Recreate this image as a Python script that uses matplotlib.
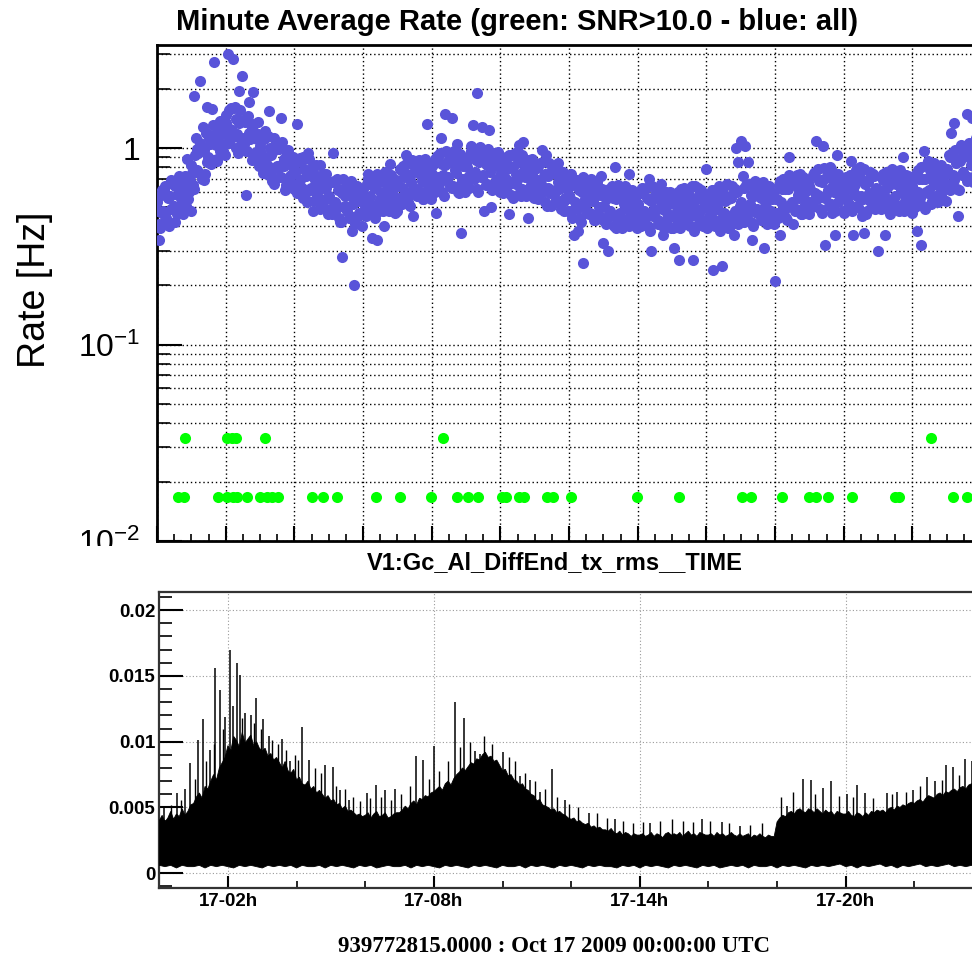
import numpy as np
import matplotlib
matplotlib.use("Agg")
import matplotlib.pyplot as plt
from matplotlib.ticker import FixedLocator, MultipleLocator, FuncFormatter, LogLocator, NullFormatter, FixedFormatter
from matplotlib.patches import Rectangle

plt.rcParams['font.family'] = ['Liberation Sans', 'DejaVu Sans']
plt.rcParams['mathtext.fontset'] = 'custom'
plt.rcParams['mathtext.rm'] = 'Liberation Sans'

# ---------------------------------------------------------------------------
# Top panel: minute average rate [Hz]
# three interleaved sets, one value every 4 min each (15 per hour)
rate_all = [
    0.53, 0.34, 0.47, 0.61, 0.44, 0.56, 0.49, 0.66, 0.42, 0.58, 0.71, 0.52, 0.63, 0.88, 0.60,  # 00h
    0.82, 1.85, 1.12, 0.94, 2.20, 1.28, 0.74, 1.62, 1.05, 1.58, 2.75, 0.88, 1.35, 1.18, 0.97,  # 01h
    1.48, 3.02, 1.25, 2.85, 1.62, 1.18, 1.95, 2.32, 1.05, 0.58, 1.72, 1.14, 1.92, 0.92, 1.36,  # 02h
    1.02, 0.86, 1.22, 0.74, 1.55, 0.92, 0.66, 1.08, 0.79, 1.42, 0.84, 0.61, 0.95, 0.72, 0.88,  # 03h
    0.78, 1.32, 0.64, 0.85, 0.56, 0.72, 0.95, 0.61, 0.48, 0.69, 0.58, 0.82, 0.52, 0.63, 0.74,  # 04h
    0.56, 0.47, 0.94, 0.52, 0.61, 0.42, 0.28, 0.57, 0.48, 0.66, 0.38, 0.20, 0.54, 0.45, 0.62,  # 05h
    0.62, 0.51, 0.74, 0.57, 0.35, 0.66, 0.34, 0.48, 0.59, 0.40, 0.69, 0.55, 0.83, 0.61, 0.47,  # 06h
    0.64, 0.78, 0.52, 0.71, 0.92, 0.58, 0.67, 0.45, 0.82, 0.61, 0.74, 0.55, 0.88, 1.33, 0.70,  # 07h
    0.81, 0.68, 0.47, 0.92, 1.12, 0.73, 1.50, 0.85, 0.64, 1.43, 0.77, 1.05, 0.59, 0.37, 0.88,  # 08h
    0.84, 0.71, 1.02, 1.31, 0.76, 1.90, 0.93, 1.28, 0.48, 0.82, 1.24, 0.50, 0.88, 0.69, 0.96,  # 09h
    0.72, 0.85, 0.61, 0.78, 0.46, 0.92, 0.68, 0.74, 1.04, 0.57, 1.08, 0.81, 0.44, 0.70, 0.88,  # 10h
    0.66, 0.79, 0.58, 0.98, 0.72, 0.92, 0.63, 0.51, 0.75, 0.60, 0.84, 0.54, 0.69, 0.48, 0.62,  # 11h
    0.58, 0.74, 0.36, 0.52, 0.38, 0.64, 0.26, 0.55, 0.47, 0.68, 0.59, 0.43, 0.61, 0.50, 0.72,  # 12h
    0.33, 0.55, 0.30, 0.48, 0.61, 0.80, 0.44, 0.57, 0.39, 0.52, 0.63, 0.74, 0.46, 0.58, 0.41,  # 13h
    0.52, 0.45, 0.63, 0.41, 0.56, 0.70, 0.30, 0.49, 0.58, 0.43, 0.66, 0.36, 0.54, 0.47, 0.60,  # 14h
    0.55, 0.31, 0.48, 0.27, 0.62, 0.44, 0.57, 0.51, 0.40, 0.27, 0.64, 0.49, 0.58, 0.42, 0.53,  # 15h
    0.78, 0.56, 0.45, 0.24, 0.61, 0.49, 0.38, 0.25, 0.54, 0.66, 0.43, 0.58, 0.36, 1.00, 0.85,  # 16h
    1.09, 0.72, 1.03, 0.85, 0.52, 0.34, 0.60, 0.47, 0.66, 0.56, 0.31, 0.50, 0.63, 0.44, 0.57,  # 17h
    0.21, 0.55, 0.36, 0.62, 0.48, 0.70, 0.90, 0.52, 0.41, 0.66, 0.58, 0.74, 0.46, 0.60, 0.53,  # 18h
    0.64, 0.52, 0.75, 1.09, 0.58, 0.69, 1.03, 0.32, 0.61, 0.80, 0.47, 0.36, 0.92, 0.66, 0.55,  # 19h
    0.60, 0.71, 0.50, 0.86, 0.36, 0.66, 0.57, 0.80, 0.45, 0.37, 0.68, 0.59, 0.74, 0.52, 0.63,  # 20h
    0.30, 0.58, 0.69, 0.36, 0.63, 0.51, 0.75, 0.56, 0.66, 0.48, 0.61, 0.90, 0.54, 0.72, 0.59,  # 21h
    0.64, 0.55, 0.38, 0.70, 0.32, 0.97, 0.60, 0.86, 0.52, 0.68, 0.74, 0.58, 0.80, 0.66, 0.76,  # 22h
    0.78, 0.92, 1.20, 1.35, 0.84, 0.45, 0.88, 1.02, 0.72, 1.50, 0.96, 1.42, 0.81, 1.12, 0.90,  # 23h
]
rate_all_b = [
    0.48, 0.39, 0.61, 0.45, 0.57, 0.40, 0.69, 0.51, 0.64, 0.48, 0.61, 0.46, 0.72, 0.55, 0.69,
    0.75, 0.62, 0.99, 0.75, 0.97, 0.69, 1.20, 0.90, 1.16, 0.87, 1.12, 0.86, 1.37, 1.05, 1.34,
    1.35, 1.06, 1.60, 1.14, 1.40, 0.94, 1.56, 1.12, 1.36, 0.97, 1.20, 0.87, 1.32, 0.96, 1.18,
    0.95, 0.75, 1.13, 0.81, 1.00, 0.68, 1.13, 0.81, 0.99, 0.71, 0.88, 0.65, 0.98, 0.73, 0.90,
    0.75, 0.59, 0.89, 0.63, 0.78, 0.53, 0.88, 0.63, 0.76, 0.55, 0.67, 0.49, 0.74, 0.55, 0.67,
    0.57, 0.46, 0.68, 0.49, 0.62, 0.42, 0.70, 0.51, 0.62, 0.45, 0.57, 0.41, 0.64, 0.47, 0.58,
    0.56, 0.45, 0.70, 0.50, 0.64, 0.44, 0.74, 0.55, 0.68, 0.50, 0.63, 0.48, 0.73, 0.56, 0.69,
    0.65, 0.52, 0.81, 0.58, 0.74, 0.51, 0.87, 0.63, 0.79, 0.58, 0.74, 0.55, 0.85, 0.64, 0.81,
    0.74, 0.60, 0.91, 0.66, 0.83, 0.57, 0.97, 0.71, 0.88, 0.64, 0.81, 0.60, 0.93, 0.70, 0.87,
    0.80, 0.63, 0.97, 0.70, 0.87, 0.60, 1.01, 0.73, 0.91, 0.66, 0.83, 0.61, 0.94, 0.70, 0.87,
    0.75, 0.59, 0.90, 0.65, 0.81, 0.56, 0.95, 0.69, 0.85, 0.62, 0.77, 0.57, 0.87, 0.65, 0.81,
    0.70, 0.55, 0.84, 0.60, 0.74, 0.51, 0.84, 0.61, 0.75, 0.54, 0.67, 0.49, 0.76, 0.56, 0.69,
    0.56, 0.44, 0.68, 0.49, 0.61, 0.42, 0.71, 0.52, 0.64, 0.47, 0.58, 0.43, 0.67, 0.50, 0.62,
    0.51, 0.41, 0.62, 0.45, 0.56, 0.39, 0.65, 0.47, 0.59, 0.43, 0.54, 0.40, 0.61, 0.46, 0.57,
    0.50, 0.40, 0.61, 0.44, 0.55, 0.38, 0.64, 0.47, 0.58, 0.42, 0.53, 0.39, 0.60, 0.45, 0.56,
    0.39, 0.52, 0.43, 0.57, 0.49, 0.63, 0.41, 0.58, 0.45, 0.54, 0.40, 0.63, 0.48, 0.59, 0.43,
    0.39, 0.53, 0.43, 0.58, 0.49, 0.64, 0.42, 0.59, 0.46, 0.55, 0.40, 0.64, 0.48, 0.60, 0.44,
    0.53, 0.42, 0.65, 0.47, 0.58, 0.40, 0.68, 0.49, 0.61, 0.45, 0.56, 0.41, 0.64, 0.48, 0.59,
    0.55, 0.44, 0.68, 0.49, 0.62, 0.43, 0.73, 0.53, 0.67, 0.49, 0.61, 0.46, 0.71, 0.54, 0.67,
    0.62, 0.50, 0.76, 0.55, 0.68, 0.47, 0.79, 0.58, 0.71, 0.52, 0.65, 0.48, 0.74, 0.56, 0.69,
    0.47, 0.63, 0.52, 0.69, 0.59, 0.77, 0.50, 0.71, 0.55, 0.66, 0.48, 0.76, 0.58, 0.72, 0.52,
    0.61, 0.49, 0.74, 0.54, 0.67, 0.46, 0.78, 0.57, 0.70, 0.51, 0.64, 0.48, 0.73, 0.55, 0.68,
    0.62, 0.50, 0.77, 0.56, 0.70, 0.49, 0.83, 0.61, 0.76, 0.56, 0.70, 0.53, 0.82, 0.62, 0.78,
    0.75, 0.61, 0.94, 0.69, 0.87, 0.61, 1.04, 0.76, 0.95, 0.71, 0.89, 0.67, 1.04, 0.79, 1.01,
]
rate_all_c = [
    0.41, 0.58, 0.48, 0.64, 0.41, 0.57, 0.49, 0.64, 0.46, 0.72, 0.56, 0.67, 0.51, 0.63, 0.48,
    0.65, 0.92, 0.77, 1.06, 0.70, 0.98, 0.85, 1.13, 0.83, 1.31, 1.04, 1.24, 0.97, 1.22, 0.92,
    1.16, 1.57, 1.24, 1.61, 1.00, 1.34, 1.10, 1.39, 0.97, 1.46, 1.11, 1.27, 0.94, 1.11, 0.81,
    0.82, 1.11, 0.88, 1.15, 0.72, 0.97, 0.79, 1.01, 0.71, 1.07, 0.81, 0.94, 0.70, 0.84, 0.62,
    0.65, 0.87, 0.69, 0.90, 0.56, 0.76, 0.62, 0.79, 0.54, 0.82, 0.62, 0.71, 0.53, 0.63, 0.46,
    0.49, 0.67, 0.53, 0.70, 0.44, 0.59, 0.50, 0.64, 0.44, 0.68, 0.52, 0.60, 0.45, 0.54, 0.40,
    0.48, 0.66, 0.54, 0.71, 0.46, 0.63, 0.52, 0.68, 0.48, 0.76, 0.58, 0.69, 0.52, 0.64, 0.48,
    0.56, 0.77, 0.63, 0.83, 0.53, 0.72, 0.61, 0.79, 0.57, 0.87, 0.68, 0.79, 0.60, 0.74, 0.55,
    0.64, 0.88, 0.71, 0.94, 0.60, 0.82, 0.69, 0.88, 0.63, 0.97, 0.75, 0.88, 0.66, 0.81, 0.60,
    0.69, 0.93, 0.75, 0.99, 0.62, 0.85, 0.71, 0.92, 0.65, 0.99, 0.76, 0.88, 0.66, 0.81, 0.60,
    0.64, 0.87, 0.70, 0.92, 0.58, 0.80, 0.66, 0.85, 0.60, 0.92, 0.71, 0.82, 0.62, 0.75, 0.56,
    0.60, 0.81, 0.66, 0.85, 0.53, 0.72, 0.59, 0.77, 0.53, 0.81, 0.62, 0.71, 0.54, 0.64, 0.48,
    0.48, 0.65, 0.53, 0.69, 0.44, 0.60, 0.50, 0.64, 0.46, 0.70, 0.54, 0.63, 0.47, 0.58, 0.43,
    0.44, 0.60, 0.48, 0.64, 0.40, 0.55, 0.46, 0.59, 0.42, 0.64, 0.49, 0.58, 0.43, 0.53, 0.39,
    0.43, 0.59, 0.48, 0.63, 0.40, 0.54, 0.45, 0.58, 0.41, 0.63, 0.49, 0.57, 0.43, 0.52, 0.39,
    0.56, 0.45, 0.60, 0.39, 0.53, 0.42, 0.58, 0.47, 0.64, 0.38, 0.55, 0.44, 0.61, 0.40, 0.50,
    0.57, 0.46, 0.61, 0.40, 0.54, 0.43, 0.59, 0.47, 0.65, 0.39, 0.56, 0.45, 0.62, 0.41, 0.51,
    0.46, 0.63, 0.50, 0.66, 0.42, 0.57, 0.48, 0.61, 0.43, 0.67, 0.51, 0.60, 0.45, 0.55, 0.41,
    0.47, 0.65, 0.53, 0.70, 0.44, 0.62, 0.51, 0.66, 0.48, 0.73, 0.56, 0.67, 0.50, 0.62, 0.46,
    0.53, 0.73, 0.59, 0.78, 0.49, 0.67, 0.56, 0.72, 0.51, 0.78, 0.60, 0.70, 0.53, 0.64, 0.48,
    0.68, 0.55, 0.73, 0.48, 0.64, 0.51, 0.70, 0.57, 0.78, 0.46, 0.67, 0.54, 0.74, 0.49, 0.61,
    0.52, 0.72, 0.58, 0.76, 0.48, 0.66, 0.55, 0.71, 0.50, 0.77, 0.59, 0.69, 0.52, 0.63, 0.47,
    0.53, 0.74, 0.60, 0.80, 0.51, 0.70, 0.59, 0.77, 0.54, 0.84, 0.65, 0.77, 0.58, 0.72, 0.54,
    0.65, 0.90, 0.73, 0.98, 0.62, 0.86, 0.73, 0.95, 0.68, 1.06, 0.82, 0.97, 0.74, 0.92, 0.69,
]

# SNR>10 triggers: hours of the minutes with 1 and with 2 triggers
snr_one_t = [0.61, 0.80, 1.77, 2.03, 2.20, 2.32, 2.61, 2.99, 3.20, 3.34, 3.52, 4.51, 4.83, 5.24,
             6.37, 7.07, 7.97, 8.73, 9.05, 9.34, 10.04, 10.16, 10.54, 10.68, 11.35, 11.52, 12.05,
             13.97, 15.20, 17.03, 17.30, 18.20, 18.98, 19.19, 19.54, 20.24, 21.49, 21.61, 23.18, 23.59]
snr_two_t = [0.81, 2.03, 2.18, 2.29, 3.14, 8.32, 22.54]
snr_rates = [1 / 60, 2 / 60]

# ---------------------------------------------------------------------------
# Bottom panel: V1:Gc_Al_DiffEnd_tx_rms, upper envelope every 5 min (units of 1e-4)
env_top_e4 = [
    40, 44, 39, 42, 47, 41, 45, 43, 49, 44, 47, 52,      # 00h
    53, 58, 61, 57, 66, 64, 70, 75, 71, 80, 84, 88,      # 01h
    97, 93, 104, 101, 96, 107, 99, 102, 105, 97, 100, 95,  # 02h
    93, 95, 89, 91, 86, 88, 84, 80, 85, 78, 76, 79,      # 03h
    71, 73, 68, 67, 70, 64, 66, 61, 63, 60, 57, 59,      # 04h
    55, 56, 52, 53, 49, 51, 47, 48, 46, 44, 45, 43,      # 05h
    44, 46, 42, 45, 47, 43, 44, 46, 42, 43, 45, 46,      # 06h
    46, 48, 51, 49, 53, 55, 52, 57, 56, 59, 58, 61,      # 07h
    62, 64, 66, 63, 68, 70, 67, 72, 75, 77, 80, 78,      # 08h
    81, 84, 83, 87, 86, 90, 92, 88, 89, 85, 86, 82,      # 09h
    78, 79, 74, 75, 71, 70, 67, 68, 64, 63, 60, 59,      # 10h
    55, 56, 52, 51, 50, 48, 49, 46, 47, 45, 44, 42,      # 11h
    41, 42, 39, 40, 38, 37, 38, 35, 36, 34, 35, 33,      # 12h
    33, 32, 34, 31, 30, 32, 29, 31, 30, 28, 30, 29,      # 13h
    29, 30, 28, 29, 31, 28, 30, 29, 27, 30, 31, 29,      # 14h
    30, 29, 31, 28, 30, 32, 29, 30, 28, 31, 30, 29,      # 15h
    29, 30, 28, 31, 29, 30, 28, 29, 31, 29, 28, 30,      # 16h
    28, 29, 30, 27, 29, 28, 30, 28, 27, 29, 28, 28,      # 17h
    39, 42, 44, 43, 46, 47, 45, 48, 49, 47, 46, 49,      # 18h
    48, 46, 49, 47, 45, 48, 46, 47, 44, 47, 46, 45,      # 19h
    45, 47, 44, 43, 46, 45, 43, 46, 44, 47, 46, 48,      # 20h
    47, 48, 46, 49, 50, 48, 51, 50, 52, 51, 53, 54,      # 21h
    53, 55, 56, 54, 57, 59, 58, 57, 60, 61, 59, 62,      # 22h
    61, 63, 64, 62, 65, 66, 64, 67, 68, 66, 69, 70,      # 23h
    68,
]
# lower envelope every 10 min (units of 1e-4)
env_low_e4 = [
    6, 5, 6, 4, 6, 5, 5, 6, 4, 6, 5, 6, 5, 4, 6, 5, 6, 5, 4, 6, 5, 6, 5, 6,
    4, 6, 5, 5, 6, 4, 6, 5, 6, 5, 4, 6, 5, 6, 4, 5, 6, 5, 5, 6, 4, 6, 5, 6,
    5, 4, 6, 5, 6, 5, 4, 6, 5, 6, 5, 4, 6, 5, 5, 6, 4, 6, 5, 6, 5, 4, 6, 5,
    6, 5, 4, 6, 5, 6, 5, 5, 4, 6, 5, 6, 4, 6, 5, 6, 5, 4, 6, 5, 6, 5, 4, 6,
    5, 6, 4, 5, 6, 5, 6, 4, 6, 5, 5, 6, 4, 6, 5, 6, 5, 4, 6, 5, 6, 5, 6, 7,
    5, 6, 4, 6, 5, 6, 7, 5, 6, 4, 6, 5, 6, 7, 5, 6, 5, 6, 7, 5, 6, 5, 6, 5,
    6,
]
# isolated spikes above the envelope (hour, value)
spike_t = [0.13, 0.52, 0.76, 0.90, 1.12, 1.27, 1.49, 1.63, 1.76, 1.92, 2.05, 2.15, 2.26, 2.34,
           2.51, 2.67, 2.83, 3.02, 3.19, 3.57, 3.80, 4.16, 4.35, 4.84, 5.06, 5.27, 5.52, 6.05,
           6.32, 6.58, 6.88, 7.49, 7.68, 7.99, 8.62, 8.87, 9.21, 9.35, 9.55, 10.00, 10.52, 10.81,
           11.10, 11.44, 11.83, 12.51, 13.28, 14.30, 15.80, 16.39, 16.92, 18.28, 18.75, 18.98,
           19.33, 19.57, 20.03, 20.34, 20.56, 21.19, 21.49, 21.97, 22.38, 22.60, 22.92, 23.14,
           23.49, 23.67]
spike_v = [0.0051, 0.0061, 0.0064, 0.0084, 0.0101, 0.0117, 0.0094, 0.0156, 0.0139, 0.0119,
           0.0170, 0.0127, 0.0160, 0.0151, 0.0122, 0.0120, 0.0133, 0.0117, 0.0104, 0.0102,
           0.0085, 0.0111, 0.0086, 0.0082, 0.0081, 0.0063, 0.0056, 0.0061, 0.0067, 0.0063,
           0.0064, 0.0089, 0.0086, 0.0097, 0.0130, 0.0118, 0.0093, 0.0091, 0.0082, 0.0092,
           0.0074, 0.0071, 0.0062, 0.0079, 0.0056, 0.0046, 0.0041, 0.0038, 0.0041, 0.0039,
           0.0036, 0.0051, 0.0072, 0.0071, 0.0065, 0.0070, 0.0060, 0.0067, 0.0061, 0.0061,
           0.0062, 0.0063, 0.0073, 0.0070, 0.0082, 0.0081, 0.0087, 0.0085]
# smaller hairs on the envelope
hair_t = [0.35, 0.62, 1.05, 1.35, 1.58, 1.85, 2.42, 2.75, 2.95, 3.28, 3.45, 3.68, 3.95, 4.05,
          4.55, 4.70, 5.15, 5.40, 5.65, 5.85, 6.15, 6.45, 6.75, 7.05, 7.30, 7.85, 8.15, 8.40,
          8.75, 9.05, 9.45, 9.70, 10.20, 10.35, 10.65, 10.95, 11.25, 11.60, 11.95, 12.20, 12.75,
          13.05, 13.50, 13.80, 14.10, 14.60, 14.95, 15.25, 15.55, 16.05, 16.60, 17.20, 17.55,
          18.10, 18.45, 19.10, 19.80, 20.20, 20.80, 21.35, 21.75, 22.15, 22.80, 23.30, 23.85]
hair_v = [0.0052, 0.0056, 0.0072, 0.0085, 0.0098, 0.0110, 0.0118, 0.0114, 0.0110, 0.0101,
          0.0098, 0.0094, 0.0090, 0.0086, 0.0080, 0.0076, 0.0066, 0.0064, 0.0058, 0.0055,
          0.0057, 0.0058, 0.0056, 0.0060, 0.0066, 0.0072, 0.0078, 0.0085, 0.0096, 0.0100,
          0.0104, 0.0098, 0.0088, 0.0085, 0.0076, 0.0070, 0.0064, 0.0058, 0.0053, 0.0050,
          0.0046, 0.0042, 0.0040, 0.0038, 0.0039, 0.0040, 0.0041, 0.0040, 0.0039, 0.0040,
          0.0038, 0.0037, 0.0038, 0.0058, 0.0062, 0.0060, 0.0059, 0.0058, 0.0057, 0.0060,
          0.0062, 0.0066, 0.0071, 0.0075, 0.0079]

labels_hours = [2, 8, 14, 20]

# ---------------------------------------------------------------------------
W, H = 972, 959
fig = plt.figure(figsize=(W / 100, H / 100), dpi=100)

blue = '#5954d9'
green = '#00ff00'

# top pad (axes goes a bit past the right edge, like the original screenshot)
ax = fig.add_axes([157 / W, 1 - 541 / H, (981 - 157) / W, (541 - 45) / H])
step = 4 / 60
for k, serie in enumerate([rate_all, rate_all_b, rate_all_c]):
    t = np.arange(len(serie)) * step + k * step / 3
    ax.plot(t, serie, 'o', color=blue, ms=8, mec='none', zorder=3)
ax.plot(snr_one_t, np.full(len(snr_one_t), snr_rates[0]), 'o', color=green, ms=8, mec='none', zorder=3)
ax.plot(snr_two_t, np.full(len(snr_two_t), snr_rates[1]), 'o', color=green, ms=8, mec='none', zorder=3)

ax.set_yscale('log')
ax.set_ylim(0.01, 3.35)
ax.set_xlim(0, 24)
ax.yaxis.set_major_locator(FixedLocator([0.01, 0.1, 1]))
ax.yaxis.set_major_formatter(FixedFormatter([r'$\mathdefault{10^{-2}}$', r'$\mathdefault{10^{-1}}$', '1']))
ax.yaxis.set_minor_locator(LogLocator(base=10, subs=np.arange(2, 10), numticks=20))
ax.yaxis.set_minor_formatter(NullFormatter())
ax.xaxis.set_major_locator(MultipleLocator(2))
ax.xaxis.set_minor_locator(MultipleLocator(0.5))
ax.tick_params(axis='y', which='major', direction='in', length=18, width=1.5, labelsize=23, pad=12)
ax.tick_params(axis='y', which='minor', direction='in', length=9.5, width=1.2)
ax.tick_params(axis='x', which='major', direction='in', length=10.5, width=1.5, labelbottom=False)
ax.tick_params(axis='x', which='minor', direction='in', length=5, width=1.2)
ax.grid(True, which='both', axis='y', ls=(0, (1, 2)), color='black', lw=1)
ax.grid(True, which='major', axis='x', ls=(0, (1, 2)), color='black', lw=1)
ax.set_axisbelow(True)
for s in ax.spines.values():
    s.set_linewidth(2)
    s.set_color('black')

# bottom pad
ax2 = fig.add_axes([159.3 / W, 1 - 887.7 / H, (983 - 159.3) / W, (887.7 - 591.7) / H])
ax2.set_zorder(2)
env_top = np.array(env_top_e4) * 1e-4
env_low = np.array(env_low_e4) * 1e-4
t_top = np.arange(len(env_top)) / 12
t_low = np.arange(len(env_low)) / 6
ax2.fill(np.concatenate([t_top, t_low[::-1]]), np.concatenate([env_top, env_low[::-1]]),
         color='black', lw=0.6, zorder=3)
ax2.vlines(hair_t, 0.002, hair_v, color='black', lw=1.0, zorder=3)
ax2.vlines(spike_t, 0.002, spike_v, color='black', lw=1.1, zorder=3)
ax2.set_xlim(0, 24)
ax2.set_ylim(-0.0011, 0.0214)
ax2.yaxis.set_major_locator(MultipleLocator(0.005))
ax2.yaxis.set_minor_locator(MultipleLocator(0.001))
ax2.yaxis.set_major_formatter(FuncFormatter(lambda v, p: '%g' % round(v, 4)))
ax2.xaxis.set_major_locator(FixedLocator(labels_hours))
ax2.xaxis.set_minor_locator(MultipleLocator(2))
ax2.xaxis.set_major_formatter(FuncFormatter(lambda h, p: '17-%02dh' % int(round(h))))
ax2.tick_params(axis='y', which='major', direction='in', length=17, width=1.5, labelsize=13.5, pad=3)
ax2.tick_params(axis='y', which='minor', direction='in', length=9, width=1.2)
ax2.tick_params(axis='x', which='major', direction='in', length=8.5, width=1.5, labelsize=13.5, pad=4)
ax2.tick_params(axis='x', which='minor', direction='in', length=5, width=1.2)
for lab in ax2.get_xticklabels() + ax2.get_yticklabels():
    lab.set_fontweight('bold')
ax2.grid(True, which='major', ls=(0, (1, 2)), color='#9a9a9a', lw=0.8)
ax2.set_axisbelow(True)
for s in ax2.spines.values():
    s.set_linewidth(1.6)
    s.set_color('#333333')

# the lower pad hides the bottom of the 10^-2 label
fig.patches.append(Rectangle((0, 0), 150 / W, 1 - 546 / H, transform=fig.transFigure,
                             facecolor='white', edgecolor='none', zorder=1))

fig.text(517.5 / W, 1 - 22 / H, 'Minute Average Rate (green: SNR>10.0 - blue: all)',
         ha='center', va='center', fontsize=21, fontweight='bold')
fig.text(554.5 / W, 1 - 563 / H, 'V1:Gc_Al_DiffEnd_tx_rms__TIME',
         ha='center', va='center', fontsize=17, fontweight='bold')
fig.text(35 / W, 1 - 290 / H, 'Rate [Hz]', rotation=90, ha='center', va='center', fontsize=27)
fig.text(553.5 / W, 1 - 946 / H, '939772815.0000 : Oct 17 2009 00:00:00 UTC',
         ha='center', va='center', fontsize=16.5, fontweight='bold',
         family=['Liberation Serif', 'DejaVu Serif'])

fig.savefig('out.png', dpi=100)
